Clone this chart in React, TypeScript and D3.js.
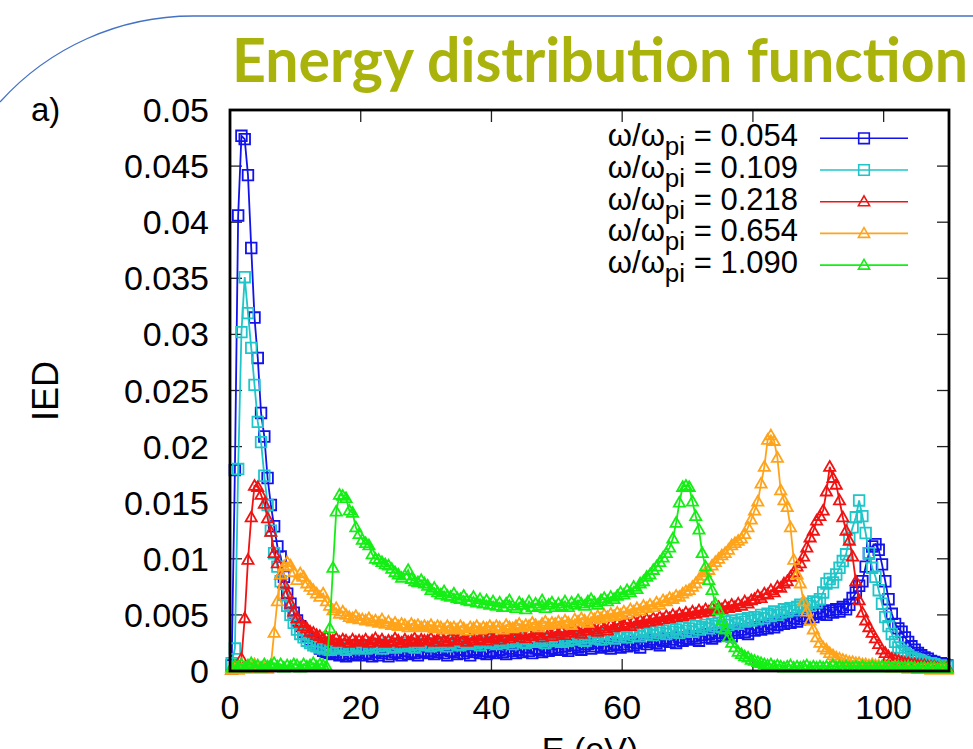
import React from 'react';
import * as d3 from 'd3';

// Energy bins (eV): bin centres start at E_START, step E_STEP
const E_START = 0.25;
const E_STEP = 0.5;
// IED values are listed in units of 1e-4
const UNIT = 1e-4;

const ied054 = [
  5,179,406,477,474,442,377,315,279,230,209,172,148,129,111,102,84,69,60,52,
  45,40,35,31,28,25,23,20,18,17,16,15,17,14,15,13,16,14,15,17,
  14,16,15,13,17,14,16,18,13,15,17,16,14,18,15,17,16,14,18,17,
  16,18,15,17,19,16,14,18,17,15,19,16,18,14,17,19,16,18,15,17,
  18,16,19,17,15,20,18,16,19,17,21,18,16,20,19,17,21,18,20,19,
  21,19,22,18,20,23,21,19,22,24,20,22,25,21,23,22,20,24,23,21,
  24,22,26,23,25,21,27,24,26,28,25,23,27,29,26,28,25,30,27,29,
  28,31,29,27,32,30,33,29,31,34,32,35,33,31,36,34,37,35,33,38,
  36,39,37,40,38,42,39,41,44,42,45,43,47,44,46,49,47,50,48,52,
  51,53,50,54,52,55,53,57,55,59,65,70,76,80,93,105,111,113,108,95,
  80,64,51,42,38,35,30,26,22,19,16,14,12,11,9,8,7,7,6,5,
];

const ied109 = [
  7,20,180,302,351,319,288,255,222,204,174,148,125,105,93,80,68,58,50,43,
  37,33,30,27,25,23,22,21,20,22,19,21,20,23,21,19,22,20,23,21,
  22,20,23,21,24,22,20,23,25,22,21,24,23,22,25,23,21,24,26,23,
  24,22,25,23,26,24,22,25,27,24,23,26,25,24,27,25,23,26,28,25,
  26,24,27,25,28,26,24,27,29,26,25,28,27,26,29,27,25,28,30,27,
  28,26,29,27,30,28,31,29,27,30,32,29,31,28,33,30,32,29,34,31,
  33,30,34,32,35,31,36,33,35,32,37,34,36,33,38,35,37,34,39,36,
  38,35,40,37,39,41,38,42,40,43,39,44,41,45,43,42,46,44,47,45,
  48,46,50,47,51,49,53,50,52,55,53,56,54,57,59,56,60,58,62,61,
  64,70,78,82,79,86,92,98,104,118,128,137,152,138,123,105,92,84,72,60,
  48,40,33,26,21,18,16,14,12,11,10,9,8,7,7,6,5,5,4,4,
];

const ied218 = [
  1,3,5,11,47,99,137,165,164,157,149,136,124,105,96,86,78,69,60,53,
  47,43,40,38,35,34,32,31,29,30,28,27,29,26,28,27,25,28,26,27,
  26,28,25,27,29,26,28,25,27,26,29,27,25,28,26,27,29,26,28,27,
  27,29,26,28,30,27,26,29,28,27,30,28,26,29,27,31,28,29,27,30,
  29,31,28,30,32,29,31,33,30,32,29,33,31,34,32,30,34,33,31,35,
  33,35,32,36,34,37,35,33,38,36,39,37,35,40,38,36,41,39,42,40,
  41,43,40,44,42,45,43,46,44,47,45,48,46,49,47,50,48,51,49,52,
  50,53,51,54,52,55,53,56,54,57,55,58,56,59,57,60,58,62,60,63,
  64,67,65,69,68,72,70,75,74,78,80,84,88,93,96,102,110,119,125,134,
  138,143,160,182,172,166,152,137,125,116,102,80,63,52,45,39,34,29,24,19,
  16,13,11,10,9,8,7,7,6,6,5,5,5,4,4,4,3,3,3,3,
];

const ied654 = [
  1,2,1,2,3,2,4,6,3,2,3,2,5,34,62,86,93,97,94,88,
  81,87,84,78,75,72,69,66,69,62,58,54,56,51,53,50,48,47,49,46,
  46,45,47,44,45,43,46,42,44,41,43,40,42,41,39,42,40,41,39,40,
  39,41,38,40,39,37,40,38,39,37,40,38,36,39,38,40,37,39,38,40,
  38,40,39,37,41,39,38,40,42,39,41,40,43,41,39,42,44,41,43,42,
  44,42,45,43,41,46,44,47,45,43,48,46,49,47,50,48,51,49,52,50,
  53,51,55,53,56,54,58,56,59,57,61,59,63,62,65,64,67,66,69,71,
  72,75,78,82,85,88,90,94,97,100,103,105,108,112,114,116,118,122,128,135,
  143,151,167,182,206,210,205,190,161,152,146,128,99,86,78,62,53,45,37,30,
  25,21,19,16,14,12,11,10,9,8,8,7,7,6,6,5,6,5,5,4,
  4,4,3,4,3,3,3,2,3,2,2,2,2,2,1,2,1,1,1,1,
];

const ied1090 = [
  3,5,4,6,3,5,7,4,5,3,6,4,5,7,4,6,3,5,4,6,
  5,3,6,4,5,7,4,6,5,4,38,92,142,157,156,154,143,141,128,122,
  117,114,112,104,100,99,97,95,94,91,88,86,83,85,90,82,80,79,81,78,
  76,72,74,70,68,71,67,66,69,65,64,67,63,62,66,61,64,60,63,59,
  62,58,61,57,60,63,58,56,61,59,55,62,57,60,58,63,56,59,61,57,
  60,58,62,57,61,59,63,60,58,62,64,61,59,63,65,62,66,64,67,70,
  68,72,70,75,73,78,80,84,86,90,93,97,101,105,110,118,132,150,164,165,
  164,151,138,126,105,93,81,72,60,54,45,37,30,25,21,17,15,13,12,10,
  9,8,7,6,5,6,4,5,4,3,4,5,3,4,3,4,5,3,4,3,
  4,3,4,3,5,3,4,3,4,3,3,4,3,4,3,3,4,3,3,4,
  3,4,3,3,4,3,3,4,3,3,2,3,3,2,3,3,2,3,3,2,
];

const seriesLabels = ['0.054', '0.109', '0.218', '0.654', '1.090'];
const seriesValues = [ied054, ied109, ied218, ied654, ied1090];
const seriesColors = ['#1212ea', '#1ec6ca', '#f21212', '#ffa41a', '#14ee14'];
const seriesMarkers = ['square', 'square', 'triangle', 'triangle', 'triangle'];

const xTicks = [0, 20, 40, 60, 80, 100];
const yTicks = [0, 0.005, 0.01, 0.015, 0.02, 0.025, 0.03, 0.035, 0.04, 0.045, 0.05];
const yTickLabels = ['0', '0.005', '0.01', '0.015', '0.02', '0.025', '0.03', '0.035', '0.04', '0.045', '0.05'];

const W = 973;
const H = 749;
const L = 230, R = 949, T = 110, B = 671;
const FONT = "'Liberation Sans', Arial, sans-serif";

function marker(kind: string, x: number, y: number) {
  if (kind === 'square') {
    return `M${x - 5.3},${y - 5.3}h10.6v10.6h-10.6Z`;
  }
  return `M${x},${y - 5.8}L${x + 5.6},${y + 4}L${x - 5.6},${y + 4}Z`;
}

export default function App() {
  const x = d3.scaleLinear().domain([0, 110]).range([L, R]);
  const y = d3.scaleLinear().domain([0, 0.05]).range([B, T]);

  const series = seriesValues.map((vals) =>
    vals.map((v, i) => ({ e: E_START + E_STEP * i, v: v * UNIT }))
  );
  const line = d3
    .line<{ e: number; v: number }>()
    .x((d) => x(d.e))
    .y((d) => y(d.v));

  const legendX0 = 820, legendX1 = 908, legendTextX = 798;
  const legendY0 = 138.3, legendDY = 31.7;

  return (
    <svg
      width={W}
      height={H}
      style={{ position: 'absolute', left: 0, top: 0, display: 'block', background: '#fff' }}
    >
      <rect x={0} y={0} width={W} height={H} fill="#fff" />
      {/* decorative slide frame */}
      <path d={`M0,102 A260,260 0 0 1 193,16 L${W},16`} fill="none" stroke="#4472c4" strokeWidth={1.3} />
      <text
        x={232}
        y={82}
        fontFamily="Lato, 'Open Sans', sans-serif"
        fontWeight={700}
        fontSize={61}
        fill="#a9b30c"
        textLength={736}
        lengthAdjust="spacingAndGlyphs"
      >
        Energy distribution function
      </text>

      <text x={31} y={121} fontFamily={FONT} fontSize={33} fill="#000">a)</text>

      {/* ticks */}
      {yTicks.map((t) => (
        <g key={'yt' + t}>
          <line x1={L} x2={L + 12} y1={y(t)} y2={y(t)} stroke="#222" strokeWidth={1.3} />
          <line x1={R - 12} x2={R} y1={y(t)} y2={y(t)} stroke="#222" strokeWidth={1.3} />
        </g>
      ))}
      {xTicks.map((t) => (
        <g key={'xt' + t}>
          <line x1={x(t)} x2={x(t)} y1={B} y2={B - 12} stroke="#222" strokeWidth={1.3} />
          <line x1={x(t)} x2={x(t)} y1={T} y2={T + 12} stroke="#222" strokeWidth={1.3} />
        </g>
      ))}

      {/* tick labels */}
      {yTicks.map((t, i) => (
        <text key={'yl' + t} x={209} y={y(t) + 12} textAnchor="end" fontFamily={FONT} fontSize={34} fill="#000">
          {yTickLabels[i]}
        </text>
      ))}
      {xTicks.map((t) => (
        <text key={'xl' + t} x={x(t)} y={719} textAnchor="middle" fontFamily={FONT} fontSize={34} fill="#000">
          {String(t)}
        </text>
      ))}

      <text
        transform="translate(58,391) rotate(-90)"
        textAnchor="middle"
        fontFamily={FONT}
        fontSize={36}
        fill="#000"
      >
        IED
      </text>
      <text x={590} y={761} textAnchor="middle" fontFamily={FONT} fontSize={34} fill="#000">
        E (eV)
      </text>

      {/* data */}
      {series.map((pts, s) => (
        <g key={'s' + s}>
          <path d={line(pts) || ''} fill="none" stroke={seriesColors[s]} strokeWidth={1.8} />
          <path
            d={pts.map((p) => marker(seriesMarkers[s], x(p.e), y(p.v))).join('')}
            fill="none"
            stroke={seriesColors[s]}
            strokeWidth={1.8}
          />
        </g>
      ))}

      {/* legend */}
      {seriesLabels.map((lab, s) => {
        const ly = legendY0 + s * legendDY;
        return (
          <g key={'lg' + s}>
            <text x={legendTextX} y={ly + 8} textAnchor="end" fontFamily={FONT} fontSize={31} fill="#000">
              ω/ω
              <tspan fontSize={26} dy={9}>pi</tspan>
              <tspan dy={-9}>{' = ' + lab}</tspan>
            </text>
            <line x1={legendX0} x2={legendX1} y1={ly} y2={ly} stroke={seriesColors[s]} strokeWidth={1.6} />
            <path
              d={marker(seriesMarkers[s], (legendX0 + legendX1) / 2, ly)}
              fill="none"
              stroke={seriesColors[s]}
              strokeWidth={1.6}
            />
          </g>
        );
      })}

      {/* border */}
      <rect x={L} y={T} width={R - L} height={B - T} fill="none" stroke="#000" strokeWidth={2.8} />
    </svg>
  );
}
